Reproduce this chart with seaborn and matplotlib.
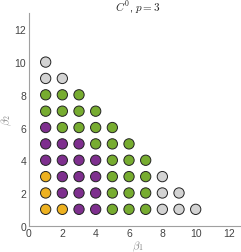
import matplotlib
matplotlib.use("Agg")
import matplotlib.pyplot as plt
import seaborn as sns
import pandas as pd

# data: (beta1, beta2, class)
beta1 = [1, 1, 2, 1, 2, 3, 1, 2, 3, 4, 1, 2, 3, 4, 5, 1, 2, 3, 4, 5, 6,
         1, 2, 3, 4, 5, 6, 7, 1, 2, 3, 4, 5, 6, 7, 8,
         1, 2, 3, 4, 5, 6, 7, 8, 9, 1, 2, 3, 4, 5, 6, 7, 8, 9, 10]
beta2 = [10, 9, 9, 8, 8, 8, 7, 7, 7, 7, 6, 6, 6, 6, 6, 5, 5, 5, 5, 5, 5,
         4, 4, 4, 4, 4, 4, 4, 3, 3, 3, 3, 3, 3, 3, 3,
         2, 2, 2, 2, 2, 2, 2, 2, 2, 1, 1, 1, 1, 1, 1, 1, 1, 1, 1]
cls = ["g", "g", "g", "G", "G", "G", "G", "G", "G", "G", "P", "G", "G", "G", "G", "P", "P", "P", "G", "G", "G",
       "P", "P", "P", "P", "G", "G", "G", "O", "P", "P", "P", "G", "G", "G", "g",
       "O", "P", "P", "P", "G", "G", "G", "g", "g", "O", "O", "P", "P", "G", "G", "G", "g", "g", "g"]
palette = {"g": "#d3d3d3", "G": "#77ac30", "P": "#7e2f8e", "O": "#edb120"}
x_ticks = [0, 2, 4, 6, 8, 10, 12]
y_ticks = [0, 2, 4, 6, 8, 10, 12]

df = pd.DataFrame({"b1": beta1, "b2": beta2, "c": cls})

sns.set_style("white")
plt.rcParams["mathtext.fontset"] = "cm"
plt.rcParams["font.family"] = ["Liberation Sans", "DejaVu Sans"]

fig = plt.figure(figsize=(2.41, 2.53), dpi=100)
ax = fig.add_axes([29 / 241, 26.3 / 253, 216.7 / 241, 212.7 / 253])
sns.scatterplot(data=df, x="b1", y="b2", hue="c", palette=palette, s=55,
                edgecolor="#222222", linewidth=0.7, legend=False, ax=ax, zorder=3)
ax.set_xlim(0, 13)
ax.set_ylim(0, 13)
ax.set_xticks(x_ticks)
ax.set_yticks(y_ticks)
for s in ["top", "right"]:
    ax.spines[s].set_visible(False)
for s in ["left", "bottom"]:
    ax.spines[s].set_color("#a0a0a0")
    ax.spines[s].set_linewidth(0.8)
ax.tick_params(direction="in", length=2.5, width=0.6, color="#a0a0a0",
               labelsize=7.5, labelcolor="#444444", pad=2)
ax.set_xlabel(r"$\beta_1$", fontsize=8, color="#888888", labelpad=0)
ax.set_ylabel(r"$\beta_2$", fontsize=8, color="#888888", labelpad=0)
ax.set_title(r"$C^0$, $p = 3$", fontsize=8, color="#222222", pad=2)
fig.savefig("out.png", dpi=100)
